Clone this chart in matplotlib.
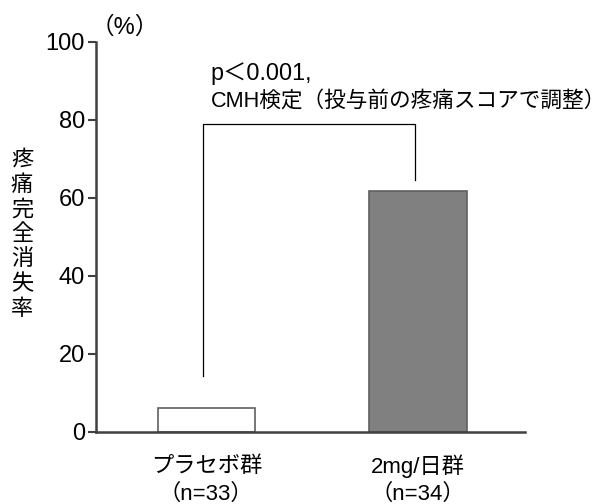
import matplotlib
matplotlib.use("Agg")
import matplotlib.pyplot as plt
from matplotlib.transforms import blended_transform_factory

plt.rcParams["font.family"] = ["Liberation Sans", "Noto Sans CJK JP", "DejaVu Sans"]

# data
groups = ["プラセボ群", "2mg/日群"]
group_n = ["（n=33）", "（n=34）"]
rates = [6.1, 61.8]
bar_colors = ["white", "#808080"]
yticks = [0, 20, 40, 60, 80, 100]
ylabel = "疼\n痛\n完\n全\n消\n失\n率"
pval_text = "p＜0.001,"
test_text = "CMH検定（投与前の疼痛スコアで調整）"
bracket_low = [14.4, 64.6]
bracket_top = 79

fig = plt.figure(figsize=(6.12, 5.04), dpi=100)
ax = fig.add_axes([0.157, 0.143, 0.701, 0.774])

x = [0, 1]
ax.bar(x, rates, width=0.46, color=bar_colors, edgecolor="#606060", linewidth=1.2, zorder=2)

# significance bracket
bx = [x[0] - 0.015, x[1] - 0.015]
ax.plot([bx[0], bx[0], bx[1], bx[1]],
        [bracket_low[0], bracket_top, bracket_top, bracket_low[1]],
        color="black", linewidth=0.9, zorder=3)
ax.text(0.02, 91.8, pval_text, fontsize=16.8, ha="left", va="center")
ax.text(0.02, 84.8, test_text, fontsize=15.6, ha="left", va="center")

ax.set_xlim(-0.52, 1.505)
ax.set_ylim(0, 100)
ax.set_yticks(yticks)
ax.set_xticks(x)
ax.set_xticklabels([])
ax.tick_params(axis="x", length=0)
ax.tick_params(axis="y", labelsize=17, length=6, width=1.5, color="#404040", pad=2)

# group labels under the bars (figure y in pixels from top: 465 and 493)
trans = blended_transform_factory(ax.transData, fig.transFigure)
for xi, name, n in zip(x, groups, group_n):
    ax.text(xi, 1 - 466 / 504, name, transform=trans, fontsize=16, ha="center", va="center")
    ax.text(xi, 1 - 494 / 504, n, transform=trans, fontsize=16, ha="center", va="center")

for s in ["top", "right"]:
    ax.spines[s].set_visible(False)
ax.spines["left"].set_color("#404040")
ax.spines["bottom"].set_color("#404040")
ax.spines["left"].set_linewidth(1.8)
ax.spines["bottom"].set_linewidth(1.8)

fig.text(0.036, 0.534, ylabel, fontsize=16, ha="center", va="center", linespacing=1.24)
fig.text(0.148, 0.945, "（%）", fontsize=17, ha="left", va="center")

fig.savefig("out.png", dpi=100)
